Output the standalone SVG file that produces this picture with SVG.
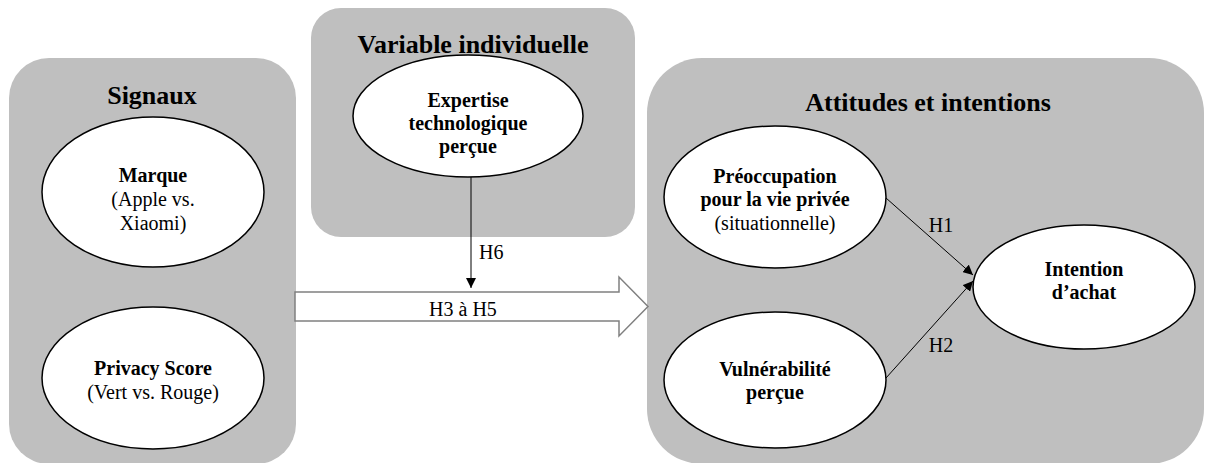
<svg xmlns="http://www.w3.org/2000/svg" width="1205" height="463" viewBox="0 0 1205 463">
<style>
.box{fill:#bfbfbf;stroke:none}
.node{fill:#ffffff;stroke:#000000;stroke-width:1.5}
.title{font-family:"Liberation Serif",serif;font-size:26px;font-weight:bold;fill:#000;text-anchor:middle}
.b{font-family:"Liberation Serif",serif;font-size:20px;font-weight:bold;fill:#000;text-anchor:middle}
.r{font-family:"Liberation Serif",serif;font-size:20px;fill:#000;text-anchor:middle}
.lbl{font-family:"Liberation Serif",serif;font-size:20px;fill:#000}
.edge{stroke:#000;stroke-width:1;fill:none}
</style>
<defs>
<marker id="ah" viewBox="0 0 10 10" refX="10" refY="5" markerWidth="10" markerHeight="10" markerUnits="userSpaceOnUse" orient="auto">
<path d="M0,0 L10,5 L0,10 Z" fill="#000"/>
</marker>
</defs>
<g id="group-signaux">
<rect class="box" x="9" y="58" width="287" height="406" rx="40" ry="40"/>
<text class="title" x="152" y="104">Signaux</text>
</g>
<g id="group-variable">
<rect class="box" x="311" y="8" width="324" height="229" rx="30" ry="30"/>
<text class="title" x="473" y="53">Variable individuelle</text>
</g>
<g id="group-attitudes">
<rect class="box" x="647" y="58" width="557" height="406" rx="55" ry="55"/>
<text class="title" x="928" y="111">Attitudes et intentions</text>
</g>
<g id="connectors">
<polygon points="295,292 619,292 619,277 648,306.5 619,336 619,321 295,321" fill="#ffffff" stroke="#808080" stroke-width="1.5"/>
<text class="r" x="463" y="316">H3 à H5</text>
<line class="edge" x1="471" y1="177" x2="471" y2="288" marker-end="url(#ah)"/>
<text class="lbl" x="479" y="259">H6</text>
<line class="edge" x1="886" y1="198" x2="973" y2="275" marker-end="url(#ah)"/>
<text class="r" x="941" y="232">H1</text>
<line class="edge" x1="886" y1="378" x2="973" y2="281" marker-end="url(#ah)"/>
<text class="r" x="941" y="352">H2</text>
</g>
<g id="node-marque">
<ellipse class="node" cx="153" cy="192" rx="111" ry="75"/>
<text class="b" x="153" y="182">Marque</text>
<text class="r" x="153" y="206">(Apple vs.</text>
<text class="r" x="153" y="230">Xiaomi)</text>
</g>
<g id="node-privacy">
<ellipse class="node" cx="153" cy="378" rx="111" ry="71"/>
<text class="b" x="153" y="375">Privacy Score</text>
<text class="r" x="153" y="399">(Vert vs. Rouge)</text>
</g>
<g id="node-expertise">
<ellipse class="node" cx="468" cy="116" rx="115" ry="61"/>
<text class="b" x="468" y="107">Expertise</text>
<text class="b" x="468" y="130">technologique</text>
<text class="b" x="468" y="153">perçue</text>
</g>
<g id="node-preoccupation">
<ellipse class="node" cx="775" cy="197" rx="111" ry="71"/>
<text class="b" x="775" y="183">Préoccupation</text>
<text class="b" x="775" y="206">pour la vie privée</text>
<text class="r" x="775" y="230">(situationnelle)</text>
</g>
<g id="node-vulnerabilite">
<ellipse class="node" cx="775" cy="380" rx="111" ry="68"/>
<text class="b" x="775" y="376">Vulnérabilité</text>
<text class="b" x="775" y="399">perçue</text>
</g>
<g id="node-intention">
<ellipse class="node" cx="1084" cy="287" rx="111" ry="62"/>
<text class="b" x="1084" y="276">Intention</text>
<text class="b" x="1084" y="299">d’achat</text>
</g>
</svg>
